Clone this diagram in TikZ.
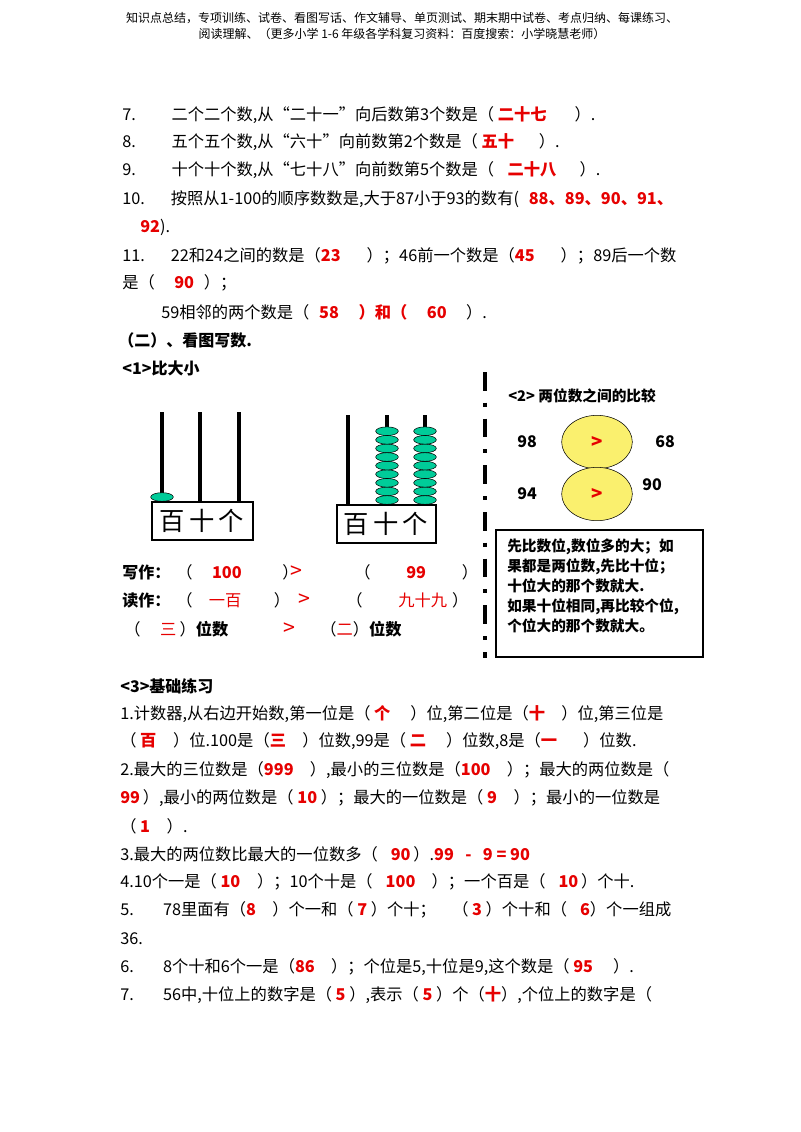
\documentclass[tikz,border=0pt]{standalone}
\usepackage{fontspec}
\setmainfont{Noto Sans CJK SC}
\usetikzlibrary{shapes.geometric}
\definecolor{rd}{RGB}{230,0,0}
\definecolor{bead}{RGB}{0,204,153}
\definecolor{yel}{RGB}{250,240,110}
\newcommand{\rd}[1]{\textcolor{rd}{\bfseries #1}}
\tikzset{tx/.style={anchor=west,inner sep=0pt,font=\fontsize{12.2}{14}\selectfont},
 rod/.style={line width=3pt},
 bd/.style={ellipse,draw=black,fill=bead,minimum width=17pt,minimum height=6.5pt,inner sep=0pt,line width=0.4pt},
 yl/.style={ellipse,draw=black,fill=yel,minimum width=53pt,minimum height=40pt,inner sep=0pt}}
\begin{document}
\begin{tikzpicture}[x=0.75pt,y=-0.75pt]
\useasboundingbox (0,0) rectangle (800,1132);
\fill[white] (0,0) rectangle (800,1132);
\node[font=\fontsize{9}{12}\selectfont,align=center,anchor=north,inner sep=0pt] (hd) at (402,12) {知识点总结，专项训练、试卷、看图写话、作文辅导、单页测试、期末期中试卷、考点归纳、每课练习、\\阅读理解、（更多小学 1-6 年级各学科复习资料：百度搜索：小学晓慧老师）};
\node[tx] (l7) at (122,115) {7.\hspace{2.2em}二个二个数,从“二十一”向后数第3个数是（ \rd{二十七} \hspace{1.5em}）.};
\node[tx] (l8) at (122,142) {8.\hspace{2.2em}五个五个数,从“六十”向前数第2个数是（ \rd{五十} \hspace{1.3em}）.};
\node[tx] (l9) at (122,170) {9.\hspace{2.2em}十个十个数,从“七十八”向前数第5个数是（ \hspace{0.6em}\rd{二十八} \hspace{1.2em}）.};
\node[tx] (l10) at (122,199) {10.\hspace{1.6em}按照从1-100的顺序数数是,大于87小于93的数有(\hspace{0.6em}\rd{88、89、90、91、}};
\node[tx] (l10b) at (140,227) {\rd{92}).};
\node[tx] (l11) at (122,256) {11.\hspace{1.6em}22和24之间的数是（\rd{23}\hspace{1.6em}）；46前一个数是（\rd{45}\hspace{1.6em}）；89后一个数};
\node[tx] (l11b) at (122,283) {是（\hspace{1.2em}\rd{90}\hspace{0.6em}）；};
\node[tx] (l11c) at (161,312) {59相邻的两个数是（\hspace{0.6em}\rd{58}\hspace{1.2em}\rd{）和（}\hspace{1.2em}\rd{60}\hspace{1.2em}）.};
\node[tx,font=\fontsize{12}{14}\selectfont\bfseries] (s2) at (118,340) {（二）、看图写数.};
\node[tx,font=\fontsize{12}{14}\selectfont\bfseries] (s21) at (122,368) {<1>比大小};
% abacus 1
\foreach \x in {162,200,239}{\draw[rod] (\x,412) -- (\x,502);}
\node[bd] (b0) at (162,497) {};
\draw[line width=2.2pt,fill=white] (152,502) rectangle (253,540);
\node[font=\fontsize{19}{20}\selectfont,inner sep=0pt] (t1) at (202,521) {百\,十\,个};
% abacus 2
\foreach \x in {348,387,425}{\draw[rod] (\x,415) -- (\x,505);}
\foreach \i in {0,...,8}{\node[bd] (p\i) at (387,500-8.6*\i) {}; \node[bd] (q\i) at (425,500-8.6*\i) {};}
\draw[line width=2.2pt,fill=white] (337,505) rectangle (436,543);
\node[font=\fontsize{19}{20}\selectfont,inner sep=0pt] (t2) at (386,524) {百\,十\,个};
% rows
\node[tx,font=\fontsize{12}{14}\selectfont\bfseries] (w1) at (122,572) {写作：};
\node[tx] (w2) at (176,572) {（\hspace{1.2em}\rd{100}\hspace{2.5em}）};
\node[tx] (w3) at (290,572) {\textcolor{rd}{\fontsize{16}{16}\selectfont >}};
\node[tx] (w4) at (354,572) {（\hspace{2.2em}\rd{99}\hspace{2.2em}）};
\node[tx,font=\fontsize{12}{14}\selectfont\bfseries] (r1) at (122,600) {读作：};
\node[tx] (r2) at (176,600) {（\hspace{1em}\textcolor{rd}{一百}\hspace{2em}）};
\node[tx] (r3) at (298,600) {\textcolor{rd}{\fontsize{16}{16}\selectfont >}};
\node[tx] (r4) at (346,600) {（\hspace{2.2em}\textcolor{rd}{九十九}\hspace{0.3em}）};
\node[tx] (d1) at (124,629) {（\hspace{1.2em}\textcolor{rd}{三}\hspace{0.2em}）\textbf{位数}};
\node[tx] (d2) at (283,629) {\textcolor{rd}{\fontsize{16}{16}\selectfont >}};
\node[tx] (d3) at (320,629) {（\textcolor{rd}{二}）\textbf{位数}};
% right panel
\draw[line width=3pt,dash pattern=on 14pt off 9pt on 3pt off 9pt] (485,372) -- (485,658);
\node[tx,font=\fontsize{11}{13}\selectfont\bfseries] (s22) at (508,396) {<2>\ 两位数之间的比较};
\node[yl] (e1) at (597,442) {\textcolor{rd}{\bfseries\fontsize{14}{14}\selectfont >}};
\node[yl] (e2) at (597,494) {\textcolor{rd}{\bfseries\fontsize{14}{14}\selectfont >}};
\node[font=\fontsize{12}{13}\selectfont\bfseries] (n98) at (527,442) {98};
\node[font=\fontsize{12}{13}\selectfont\bfseries] (n68) at (665,442) {68};
\node[font=\fontsize{12}{13}\selectfont\bfseries] (n94) at (527,494) {94};
\node[font=\fontsize{12}{13}\selectfont\bfseries] (n90) at (652,485) {90};
\draw[line width=2.2pt] (496,530) rectangle (703,657);
\node[anchor=north west,inner sep=0pt,align=left,font=\fontsize{11}{15}\selectfont\bfseries] (rule) at (507,538) {先比数位,数位多的大；如\\果都是两位数,先比十位；\\十位大的那个数就大.\\如果十位相同,再比较个位,\\个位大的那个数就大。};
% section 3
\node[tx,font=\fontsize{12}{14}\selectfont\bfseries] (s3) at (120,686) {<3>基础练习};
\node[tx] (a1) at (120,714) {1.计数器,从右边开始数,第一位是（ \rd{个} \hspace{1em}）位,第二位是（\rd{十}\hspace{1em}）位,第三位是};
\node[tx] (a1b) at (120,741) {（ \rd{百} \hspace{0.8em}）位.100是（\rd{三}\hspace{1em}）位数,99是（ \rd{二} \hspace{1em}）位数,8是（\rd{一}\hspace{1.6em}）位数.};
\node[tx] (a2) at (120,770) {2.最大的三位数是（\rd{999}\hspace{1em}）,最小的三位数是（\rd{100}\hspace{1em}）；最大的两位数是（};
\node[tx] (a2b) at (120,798) {\rd{99}\,）,最小的两位数是（ \rd{10} ）；最大的一位数是（ \rd{9} \hspace{0.8em}）；最小的一位数是};
\node[tx] (a2c) at (120,826) {（ \rd{1} \hspace{0.8em}）.};
\node[tx] (a3) at (120,854) {3.最大的两位数比最大的一位数多（\hspace{0.8em}\rd{90}\,）.\rd{99\hspace{0.7em}-\hspace{0.7em}9 = 90}};
\node[tx] (a4) at (120,882) {4.10个一是（ \rd{10} \hspace{0.8em}）；10个十是（\hspace{0.8em}\rd{100}\hspace{1em}）；一个百是（\hspace{0.8em}\rd{10}\,）个十.};
\node[tx] (a5) at (120,910) {5.\hspace{1.8em}78里面有（\rd{8}\hspace{1em}）个一和（ \rd{7} ）个十；\hspace{1em}（ \rd{3} ）个十和（\hspace{0.8em}\rd{6}）个一组成};
\node[tx] (a5b) at (120,939) {36.};
\node[tx] (a6) at (120,967) {6.\hspace{1.8em}8个十和6个一是（\rd{86}\hspace{1em}）；个位是5,十位是9,这个数是（ \rd{95} \hspace{1em}）.};
\node[tx] (a7) at (120,995) {7.\hspace{1.8em}56中,十位上的数字是（ \rd{5} ）,表示（ \rd{5} ）个（\rd{十}）,个位上的数字是（};
\end{tikzpicture}
\end{document}
